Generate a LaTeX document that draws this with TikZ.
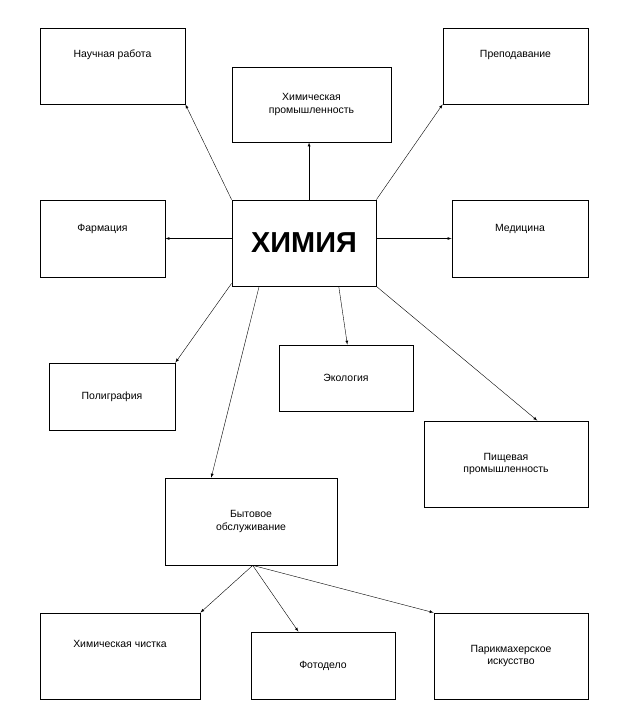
\documentclass[tikz,border=0pt]{standalone}
\usepackage{fontspec}
\setmainfont{Liberation Sans}
\usetikzlibrary{calc}
\begin{document}
\begin{tikzpicture}[x=1bp,y=-1bp,
  box/.style={draw,thick,rectangle,inner sep=0pt,align=center,font=\fontsize{10.5}{13}\selectfont},
  arr/.style={->,>=latex}]
\useasboundingbox (0,0) rectangle (622,725);
\newcommand{\bx}[6]{\node[box,minimum width={(#4-#2)*1bp},minimum height={(#5-#3)*1bp}] (#1) at ({(#2+#4)/2},{(#3+#5)/2}) {#6};}
\bx{nauch}{40}{28}{185}{104}{Научная работа\\[12pt]}
\bx{prom}{232}{67}{391}{142}{Химическая\\промышленность}
\bx{prep}{443}{28}{588}{104}{Преподавание\\[12pt]}
\node[box,minimum width=144bp,minimum height=86bp,font=\fontsize{29}{32}\selectfont\bfseries] (chem) at (304,243) {ХИМИЯ};
\bx{farm}{40}{200}{165}{277}{Фармация\\[8pt]}
\bx{med}{452}{200}{588}{277}{Медицина\\[8pt]}
\bx{poli}{49}{363}{175}{430}{Полиграфия}
\bx{eko}{279}{345}{413}{411}{Экология}
\bx{pish}{424}{421}{588}{507}{Пищевая\\промышленность}
\bx{byt}{165}{478}{337}{565}{Бытовое\\обслуживание}
\bx{chist}{40}{613}{200}{699}{Химическая чистка\\[12pt]}
\bx{foto}{251}{632}{395}{699}{Фотодело}
\bx{parik}{434}{613}{588}{699}{Парикмахерское\\искусство}
\draw[arr] (chem.north west) -- (nauch.south east);
\coordinate (pt) at ($(chem.north west)!0.535!(chem.north east)$);
\draw[arr] (pt) -- (pt |- prom.south);
\draw[arr] (chem.north east) -- (prep.south west);
\draw[arr] (chem.west |- farm.east) -- (farm.east);
\draw[arr] (chem.east |- med.west) -- (med.west);
\draw[arr] ($(chem.south west)+(0,-3)$) -- (poli.north east);
\draw[arr] ($(chem.south west)!0.74!(chem.south east)$) -- ($(eko.north west)!0.51!(eko.north east)$);
\draw[arr] (chem.south east) -- ($(pish.north west)!0.69!(pish.north east)$);
\draw[arr] ($(chem.south west)!0.19!(chem.south east)$) -- ($(byt.north west)!0.27!(byt.north east)$);
\coordinate (bs) at ($(byt.south west)!0.51!(byt.south east)$);
\draw[arr] (bs) -- (chist.north east);
\draw[arr] (bs) -- ($(foto.north west)!0.33!(foto.north east)$);
\draw[arr] (bs) -- (parik.north west);
\end{tikzpicture}
\end{document}
